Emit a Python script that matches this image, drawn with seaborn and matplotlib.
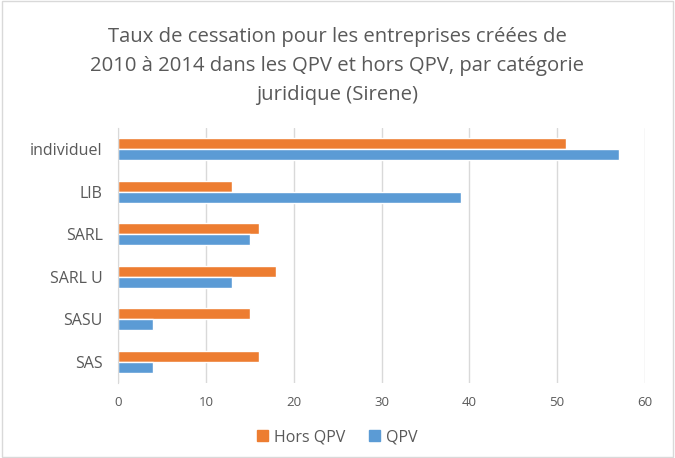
import matplotlib.pyplot as plt
import matplotlib.patches as mpatches
import numpy as np
import pandas as pd
import seaborn as sns

categories = ['individuel', 'LIB', 'SARL', 'SARL U', 'SASU', 'SAS']
hors_qpv = [51, 13, 16, 18, 15, 16]
qpv = [57, 39, 15, 13, 4, 4]
series = ['Hors QPV', 'QPV']
colors = ['#ED7D31', '#5B9BD5']
x_ticks = [0, 10, 20, 30, 40, 50, 60]
title = ("Taux de cessation pour les entreprises créées de\n"
         "2010 à 2014 dans les QPV et hors QPV, par catégorie\n"
         "juridique (Sirene)")

df = pd.DataFrame({
    'categorie': categories * 2,
    'serie': [series[0]] * len(categories) + [series[1]] * len(categories),
    'taux': hors_qpv + qpv,
})

sns.set_style('white')
plt.rcParams['font.family'] = ['Open Sans', 'DejaVu Sans']
grey = '#595959'

fig = plt.figure(figsize=(6.75, 4.58), dpi=100)
ax = fig.add_axes([118 / 675, 1 - 383 / 458, (645 - 118) / 675, (383 - 128) / 458])

sns.barplot(data=df, x='taux', y='categorie', hue='serie', order=categories,
            hue_order=series, palette=colors, orient='h', width=0.52,
            saturation=1, legend=False, ax=ax)

ax.set_xlim(0, 60)
ax.set_xticks(x_ticks)
ax.set_xlabel('')
ax.set_ylabel('')
ax.grid(axis='x', color='#d9d9d9', linewidth=1)
ax.set_axisbelow(True)
for s in ['top', 'right', 'bottom']:
    ax.spines[s].set_visible(False)
ax.spines['left'].set_color('#d9d9d9')
ax.tick_params(axis='x', colors=grey, labelsize=9.5, length=0, pad=9)
ax.tick_params(axis='y', colors=grey, labelsize=11.5, length=0, pad=11)

fig.suptitle(title, color=grey, fontsize=14.6, y=1 - 27 / 458, va='top',
             linespacing=1.6)

handles = [mpatches.Patch(color=c, label=l) for c, l in zip(colors, series)]
fig.legend(handles=handles, loc='center', bbox_to_anchor=(0.5, 1 - 437 / 458),
           ncol=2, frameon=False, fontsize=11.5, labelcolor=grey,
           handlelength=0.65, handleheight=0.65, handletextpad=0.4,
           columnspacing=1.5)

fig.patches.append(mpatches.Rectangle((0.003, 0.003), 0.994, 0.994,
                                      transform=fig.transFigure, fill=False,
                                      edgecolor='#d9d9d9', linewidth=1))

fig.savefig('out.png', dpi=100)
